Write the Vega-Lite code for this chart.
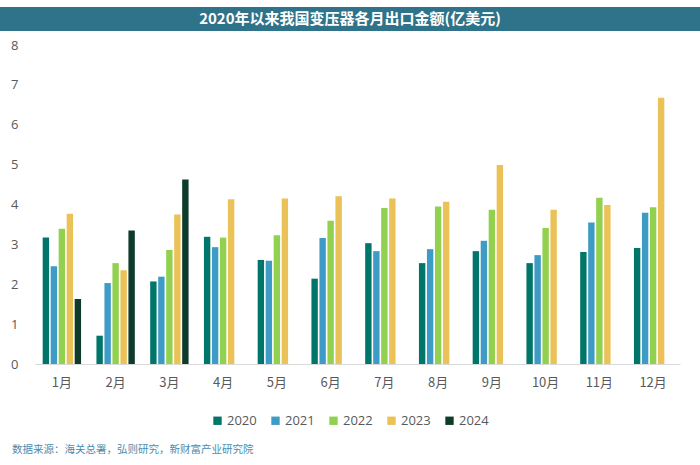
{
  "$schema": "https://vega.github.io/schema/vega-lite/v6.json",
  "padding": {"top": 7, "left": 0, "right": 0, "bottom": 0},
  "background": "white",
  "spacing": 8,
  "resolve": {"scale": {"color": "independent"}, "legend": {"color": "independent"}},
  "config": {
    "view": {"stroke": null},
    "font": "Noto Sans CJK SC",
    "axis": {"labelFont": "Noto Sans CJK SC", "labelColor": "#595959"},
    "legend": {"labelFont": "Noto Sans CJK SC", "layout": {"bottom": {"anchor": "middle"}}}
  },
  "title": {
    "text": "数据来源：海关总署，弘则研究，新财富产业研究院",
    "orient": "bottom",
    "anchor": "start",
    "dx": 12,
    "offset": 17,
    "fontSize": 10.5,
    "fontWeight": "normal",
    "color": "#4a8db0",
    "font": "Noto Sans CJK SC"
  },
  "vconcat": [
    {
      "width": 700,
      "height": 24,
      "view": {"fill": "#2e7389", "stroke": null},
      "data": {"values": [{"t": "2020年以来我国变压器各月出口金额(亿美元)"}]},
      "mark": {"type": "text", "color": "white", "fontSize": 15, "fontWeight": "bold", "align": "center", "baseline": "middle", "font": "Noto Sans CJK SC"},
      "encoding": {
        "text": {"field": "t", "type": "nominal"},
        "x": {"datum": 0.5, "type": "quantitative", "scale": {"domain": [0, 1]}, "axis": null},
        "y": {"datum": 0.5, "type": "quantitative", "scale": {"domain": [0, 1]}, "axis": null}
      }
    },
    {
      "width": 700,
      "height": 319,
      "data": {"values": [
        {"month": "1月", "year": "2020", "value": 3.17},
        {"month": "1月", "year": "2021", "value": 2.45},
        {"month": "1月", "year": "2022", "value": 3.39},
        {"month": "1月", "year": "2023", "value": 3.77},
        {"month": "1月", "year": "2024", "value": 1.63},
        {"month": "2月", "year": "2020", "value": 0.71},
        {"month": "2月", "year": "2021", "value": 2.03},
        {"month": "2月", "year": "2022", "value": 2.53},
        {"month": "2月", "year": "2023", "value": 2.35},
        {"month": "2月", "year": "2024", "value": 3.35},
        {"month": "3月", "year": "2020", "value": 2.07},
        {"month": "3月", "year": "2021", "value": 2.19},
        {"month": "3月", "year": "2022", "value": 2.86},
        {"month": "3月", "year": "2023", "value": 3.75},
        {"month": "3月", "year": "2024", "value": 4.63},
        {"month": "4月", "year": "2020", "value": 3.19},
        {"month": "4月", "year": "2021", "value": 2.93},
        {"month": "4月", "year": "2022", "value": 3.17},
        {"month": "4月", "year": "2023", "value": 4.13},
        {"month": "5月", "year": "2020", "value": 2.61},
        {"month": "5月", "year": "2021", "value": 2.59},
        {"month": "5月", "year": "2022", "value": 3.23},
        {"month": "5月", "year": "2023", "value": 4.15},
        {"month": "6月", "year": "2020", "value": 2.14},
        {"month": "6月", "year": "2021", "value": 3.16},
        {"month": "6月", "year": "2022", "value": 3.59},
        {"month": "6月", "year": "2023", "value": 4.21},
        {"month": "7月", "year": "2020", "value": 3.03},
        {"month": "7月", "year": "2021", "value": 2.83},
        {"month": "7月", "year": "2022", "value": 3.91},
        {"month": "7月", "year": "2023", "value": 4.15},
        {"month": "8月", "year": "2020", "value": 2.53},
        {"month": "8月", "year": "2021", "value": 2.88},
        {"month": "8月", "year": "2022", "value": 3.95},
        {"month": "8月", "year": "2023", "value": 4.07},
        {"month": "9月", "year": "2020", "value": 2.83},
        {"month": "9月", "year": "2021", "value": 3.09},
        {"month": "9月", "year": "2022", "value": 3.87},
        {"month": "9月", "year": "2023", "value": 4.99},
        {"month": "10月", "year": "2020", "value": 2.53},
        {"month": "10月", "year": "2021", "value": 2.73},
        {"month": "10月", "year": "2022", "value": 3.41},
        {"month": "10月", "year": "2023", "value": 3.87},
        {"month": "11月", "year": "2020", "value": 2.81},
        {"month": "11月", "year": "2021", "value": 3.55},
        {"month": "11月", "year": "2022", "value": 4.17},
        {"month": "11月", "year": "2023", "value": 3.99},
        {"month": "12月", "year": "2020", "value": 2.91},
        {"month": "12月", "year": "2021", "value": 3.79},
        {"month": "12月", "year": "2022", "value": 3.93},
        {"month": "12月", "year": "2023", "value": 6.68}
      ]},
      "mark": {"type": "bar"},
      "encoding": {
        "x": {
          "field": "month", "type": "nominal",
          "sort": ["1月","2月","3月","4月","5月","6月","7月","8月","9月","10月","11月","12月"],
          "scale": {"range": [35, 680], "paddingInner": 0, "paddingOuter": 0},
          "axis": {"title": null, "labelAngle": 0, "ticks": false, "labelPadding": 12, "labelFontSize": 13, "domainColor": "#d9d9d9", "domainWidth": 1.2, "grid": false}
        },
        "xOffset": {
          "field": "year", "type": "nominal",
          "sort": ["2020","2021","2022","2023","2024"],
          "scale": {"paddingInner": 0.2, "paddingOuter": 0.96}
        },
        "y": {
          "field": "value", "type": "quantitative",
          "scale": {"domain": [0, 8], "nice": false},
          "axis": {"title": null, "values": [0,1,2,3,4,5,6,7,8], "domain": false, "ticks": false, "grid": false, "offset": -35, "labelPadding": 17, "labelFontSize": 13, "labelFont": "Open Sans"}
        },
        "color": {
          "field": "year", "type": "nominal",
          "sort": ["2020","2021","2022","2023","2024"],
          "scale": {"domain": ["2020","2021","2022","2023","2024"], "range": ["#00766a", "#3e9bc5", "#92d050", "#ebc257", "#0f3b2b"]},
          "legend": {"title": null, "orient": "bottom", "direction": "horizontal", "symbolType": "square", "symbolSize": 70, "symbolStrokeWidth": 0, "labelFontSize": 13, "labelColor": "#595959", "labelFont": "Open Sans", "labelOffset": 3, "columnPadding": 12, "offset": 25}
        }
      }
    }
  ]
}
